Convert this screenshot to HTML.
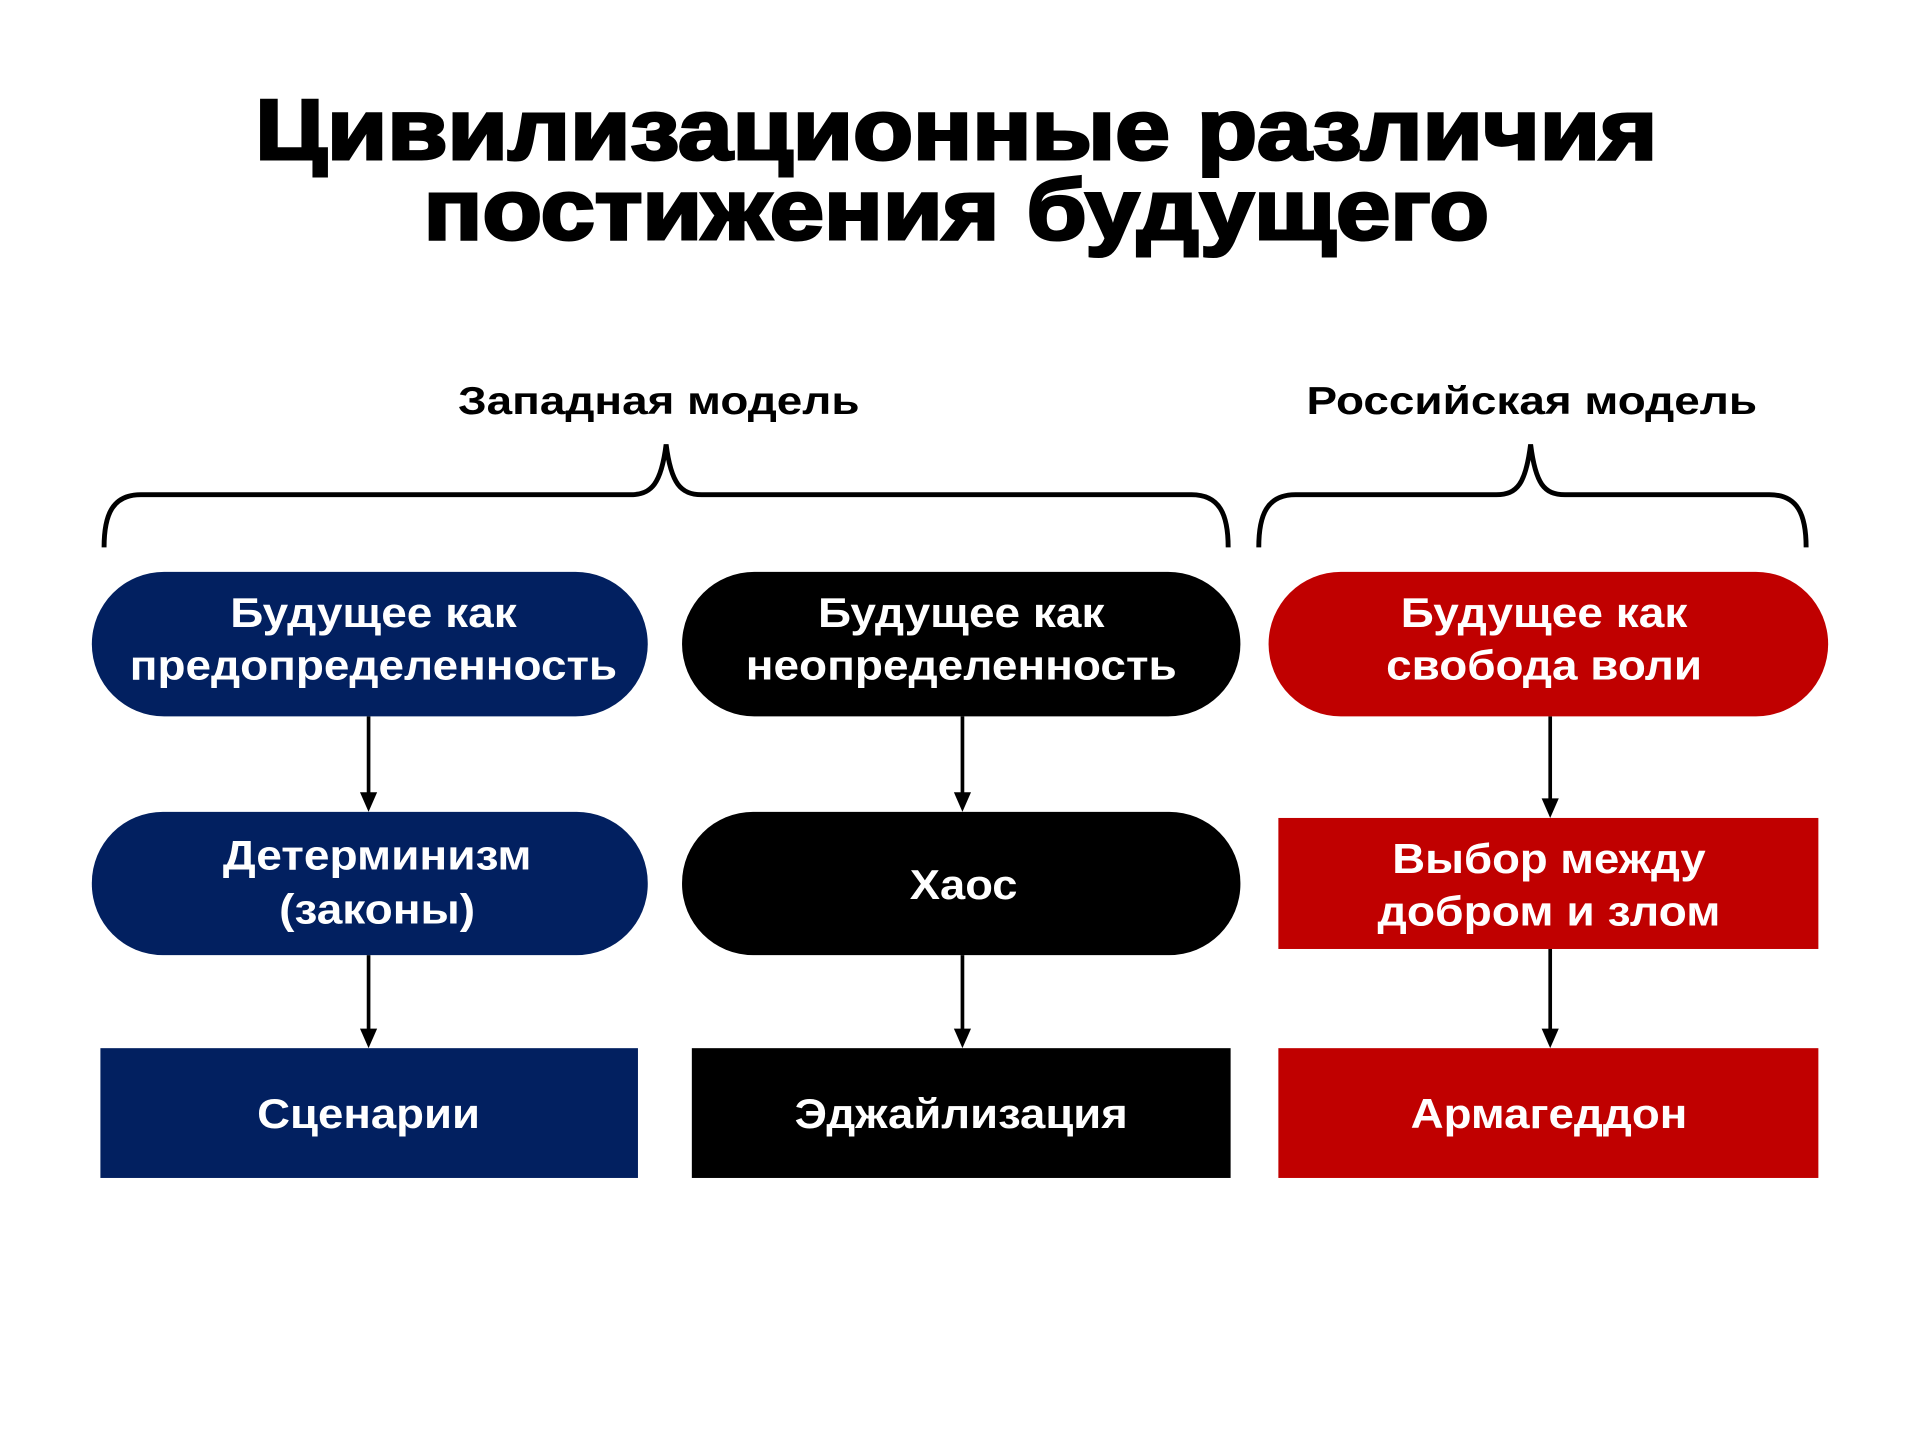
<!DOCTYPE html>
<html><head><meta charset="utf-8"><style>html,body{margin:0;padding:0;background:#fff}svg{display:block}</style></head>
<body>
<svg width="1920" height="1440" viewBox="0 0 1568 1176" xmlns="http://www.w3.org/2000/svg" font-family="Liberation Sans, DejaVu Sans, sans-serif" font-weight="bold">
<g fill="#000" stroke="#000" stroke-width="2.5" text-anchor="middle">
<text x="781" y="130" font-size="70" textLength="1145" lengthAdjust="spacingAndGlyphs">Цивилизационные различия</text>
<text x="781" y="195" font-size="70" textLength="870" lengthAdjust="spacingAndGlyphs">постижения будущего</text>
</g>
<g fill="#000" text-anchor="middle" font-size="32">
<text x="538" y="338" textLength="328" lengthAdjust="spacingAndGlyphs">Западная модель</text>
<text x="1251" y="338" textLength="368" lengthAdjust="spacingAndGlyphs">Российская модель</text>
</g>
<g fill="none" stroke="#000" stroke-width="4">
<path d="M85,447 C85,420 92,404 115,404 L515,404 C532,404 540,395 544,363 C548,395 556,404 573,404 L973,404 C996,404 1003,420 1003,447"/>
<path d="M1028,447 C1028,420 1035,404 1058,404 L1222,404 C1239,404 1246,395 1250,363 C1254,395 1261,404 1278,404 L1445,404 C1468,404 1475,420 1475,447"/>
</g>
<g stroke="#000" stroke-width="3">
<line x1="301" y1="585" x2="301" y2="652"/><line x1="301" y1="780" x2="301" y2="845"/>
<line x1="786" y1="585" x2="786" y2="652"/><line x1="786" y1="780" x2="786" y2="845"/>
<line x1="1266" y1="585" x2="1266" y2="657"/><line x1="1266" y1="775" x2="1266" y2="845"/>
</g>
<g fill="#000">
<polygon points="294,647 308,647 301,663"/><polygon points="294,840 308,840 301,856"/>
<polygon points="779,647 793,647 786,663"/><polygon points="779,840 793,840 786,856"/>
<polygon points="1259,652 1273,652 1266,668"/><polygon points="1259,840 1273,840 1266,856"/>
</g>
<rect x="75" y="467" width="454" height="118" rx="59" fill="#022060"/>
<rect x="557" y="467" width="456" height="118" rx="59" fill="#000"/>
<rect x="1036" y="467" width="457" height="118" rx="59" fill="#C00000"/>
<rect x="75" y="663" width="454" height="117" rx="58" fill="#022060"/>
<rect x="557" y="663" width="456" height="117" rx="58" fill="#000"/>
<rect x="1044" y="668" width="441" height="107" fill="#C00000"/>
<rect x="82" y="856" width="439" height="106" fill="#022060"/>
<rect x="565" y="856" width="440" height="106" fill="#000"/>
<rect x="1044" y="856" width="441" height="106" fill="#C00000"/>
<g fill="#fff" text-anchor="middle" font-size="34">
<text x="305" y="512" textLength="234" lengthAdjust="spacingAndGlyphs">Будущее как</text><text x="305" y="555" textLength="398" lengthAdjust="spacingAndGlyphs">предопределенность</text>
<text x="785" y="512" textLength="234" lengthAdjust="spacingAndGlyphs">Будущее как</text><text x="785" y="555" textLength="352" lengthAdjust="spacingAndGlyphs">неопределенность</text>
<text x="1261" y="512" textLength="234" lengthAdjust="spacingAndGlyphs">Будущее как</text><text x="1261" y="555" textLength="258" lengthAdjust="spacingAndGlyphs">свобода воли</text>
<text x="308" y="710" textLength="252" lengthAdjust="spacingAndGlyphs">Детерминизм</text><text x="308" y="754" textLength="160" lengthAdjust="spacingAndGlyphs">(законы)</text>
<text x="787" y="734" textLength="88" lengthAdjust="spacingAndGlyphs">Хаос</text>
<text x="1265" y="713" textLength="256" lengthAdjust="spacingAndGlyphs">Выбор между</text><text x="1265" y="756" textLength="280" lengthAdjust="spacingAndGlyphs">добром и злом</text>
<text x="301" y="921" textLength="182" lengthAdjust="spacingAndGlyphs">Сценарии</text>
<text x="785" y="921" textLength="272" lengthAdjust="spacingAndGlyphs">Эджайлизация</text>
<text x="1265" y="921" textLength="226" lengthAdjust="spacingAndGlyphs">Армагеддон</text>
</g>
</svg>
</body></html>
